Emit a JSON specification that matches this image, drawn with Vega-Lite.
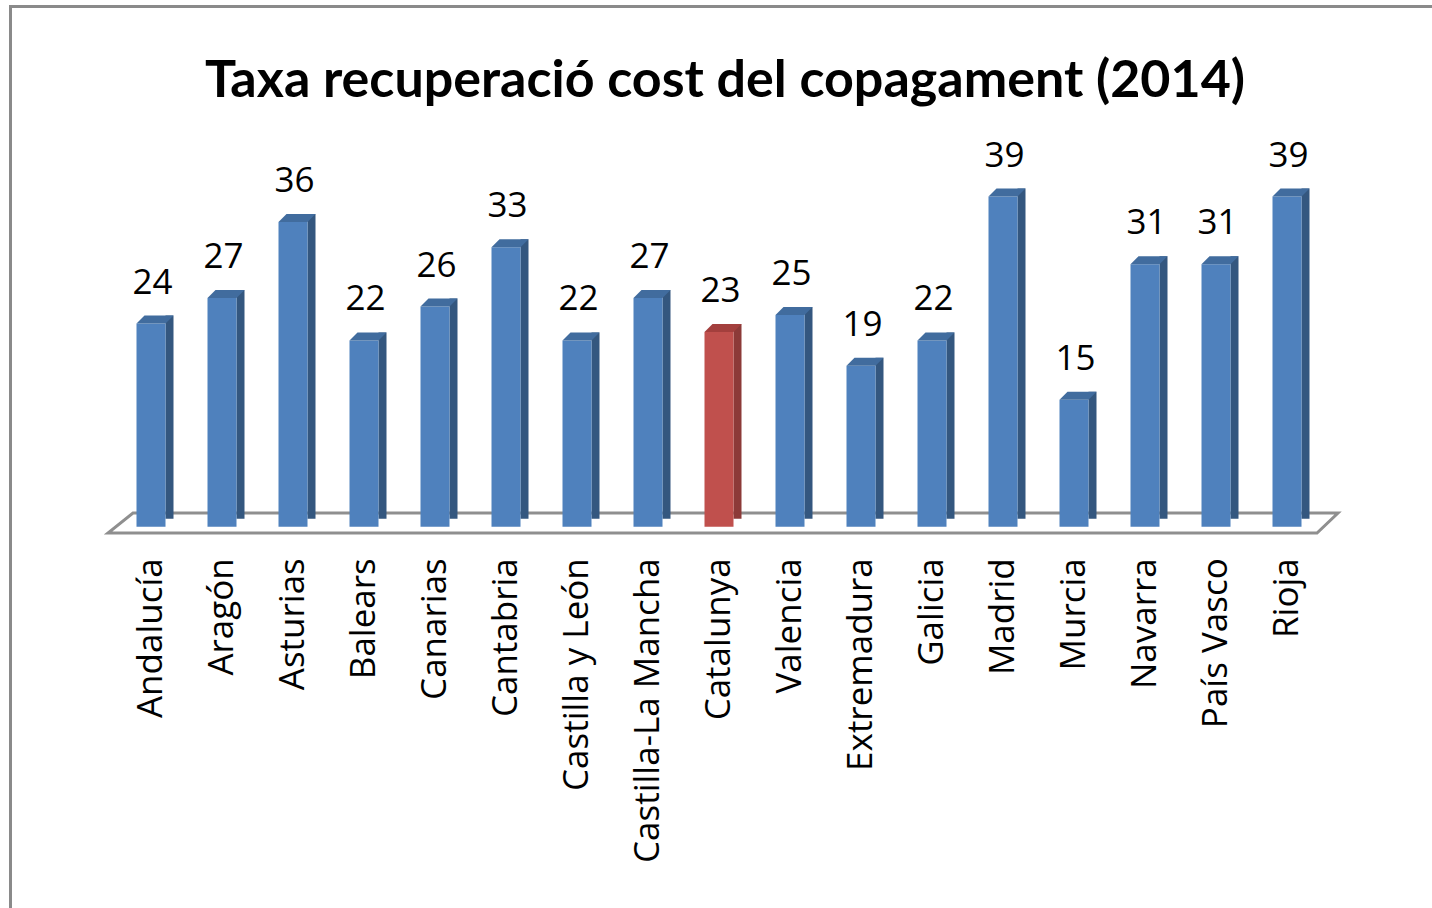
{
  "$schema": "https://vega.github.io/schema/vega-lite/v6.json",
  "width": 1207,
  "height": 381,
  "autosize": {"type": "none"},
  "padding": {"left": 115.5, "top": 145.7, "right": 109.5, "bottom": 381.3},
  "background": "white",
  "config": {"view": {"stroke": null}},
  "title": {
    "text": "Taxa recuperació cost del copagament (2014)",
    "font": "Lato",
    "fontWeight": "bold",
    "fontSize": 52,
    "color": "black",
    "anchor": "middle",
    "baseline": "alphabetic",
    "offset": -148,
    "dx": 6
  },
  "data": {"values": [
      {"regio": "Andalucía", "valor": 24},
      {"regio": "Aragón", "valor": 27},
      {"regio": "Asturias", "valor": 36},
      {"regio": "Balears", "valor": 22},
      {"regio": "Canarias", "valor": 26},
      {"regio": "Cantabria", "valor": 33},
      {"regio": "Castilla y León", "valor": 22},
      {"regio": "Castilla-La Mancha", "valor": 27},
      {"regio": "Catalunya", "valor": 23},
      {"regio": "Valencia", "valor": 25},
      {"regio": "Extremadura", "valor": 19},
      {"regio": "Galicia", "valor": 22},
      {"regio": "Madrid", "valor": 39},
      {"regio": "Murcia", "valor": 15},
      {"regio": "Navarra", "valor": 31},
      {"regio": "País Vasco", "valor": 31},
      {"regio": "Rioja", "valor": 39}
  ]},
  "layer": [
    {
      "transform": [{"filter": "datum.regio === 'Catalunya'"}],
      "mark": {
        "type": "point",
        "filled": false,
        "fill": "white",
        "fillOpacity": 1,
        "stroke": "#8f8f8f",
        "strokeWidth": 3,
        "opacity": 1,
        "size": 40000,
        "shape": "M -6.11 0.063 L 5.98 0.063 L 6.19 -0.137 L -5.86 -0.137 Z"
      },
      "encoding": {
        "x": {
          "field": "regio",
          "type": "nominal",
          "sort": null,
          "scale": {
            "domain": ["Andalucía", "Aragón", "Asturias", "Balears", "Canarias", "Cantabria", "Castilla y León", "Castilla-La Mancha", "Catalunya", "Valencia", "Extremadura", "Galicia", "Madrid", "Murcia", "Navarra", "País Vasco", "Rioja"],
            "paddingInner": 0,
            "paddingOuter": 0
          },
          "axis": {
            "title": null,
            "domain": false,
            "ticks": false,
            "tickSize": 0,
            "labelAngle": -90,
            "labelAlign": "right",
            "labelBaseline": "middle",
            "labelPadding": 31,
            "labelFont": "Open Sans",
            "labelFontSize": 35,
            "labelColor": "black",
            "labelLimit": 500
          }
        },
        "y": {"datum": 0, "type": "quantitative", "scale": {"domain": [0, 45]}, "axis": null}
      }
    },
    {
      "transform": [{"filter": "datum.regio === 'Catalunya'"}],
      "mark": {
        "type": "point",
        "filled": false,
        "fillOpacity": 0,
        "stroke": "#8a8a8a",
        "strokeWidth": 3,
        "opacity": 1,
        "size": 40000,
        "shape": "M 7.2 -5.202 L -7.085 -5.202 L -7.085 3.9"
      },
      "encoding": {
        "x": {"field": "regio", "type": "nominal", "sort": null},
        "y": {"datum": 0, "type": "quantitative", "axis": null}
      }
    },
    {
      "mark": {"type": "bar", "width": 8, "xOffset": 18.5, "yOffset": -8, "y2Offset": -4},
      "encoding": {
        "x": {"field": "regio", "type": "nominal", "sort": null},
        "y": {"field": "valor", "type": "quantitative", "axis": null},
        "color": {"condition": {"test": "datum.regio === 'Catalunya'", "value": "#8c3a38"}, "value": "#34577f"}
      }
    },
    {
      "mark": {"type": "bar", "width": 29},
      "encoding": {
        "x": {"field": "regio", "type": "nominal", "sort": null},
        "y": {"field": "valor", "type": "quantitative", "axis": null},
        "color": {"condition": {"test": "datum.regio === 'Catalunya'", "value": "#c0504d"}, "value": "#4f81bd"}
      }
    },
    {
      "mark": {
        "type": "point",
        "filled": true,
        "opacity": 1,
        "strokeWidth": 0,
        "size": 1369,
        "shape": "M -0.784 0 L -0.351 -0.432 L 1.216 -0.432 L 0.784 0 Z"
      },
      "encoding": {
        "x": {"field": "regio", "type": "nominal", "sort": null},
        "y": {"field": "valor", "type": "quantitative", "axis": null},
        "color": {"condition": {"test": "datum.regio === 'Catalunya'", "value": "#a33f3d"}, "value": "#416c9e"}
      }
    },
    {
      "mark": {"type": "text", "font": "Open Sans", "fontSize": 35, "color": "black", "baseline": "alphabetic", "dy": -30, "dx": 1.5},
      "encoding": {
        "x": {"field": "regio", "type": "nominal", "sort": null},
        "y": {"field": "valor", "type": "quantitative", "axis": null},
        "text": {"field": "valor", "type": "quantitative"}
      }
    }
  ]
}
